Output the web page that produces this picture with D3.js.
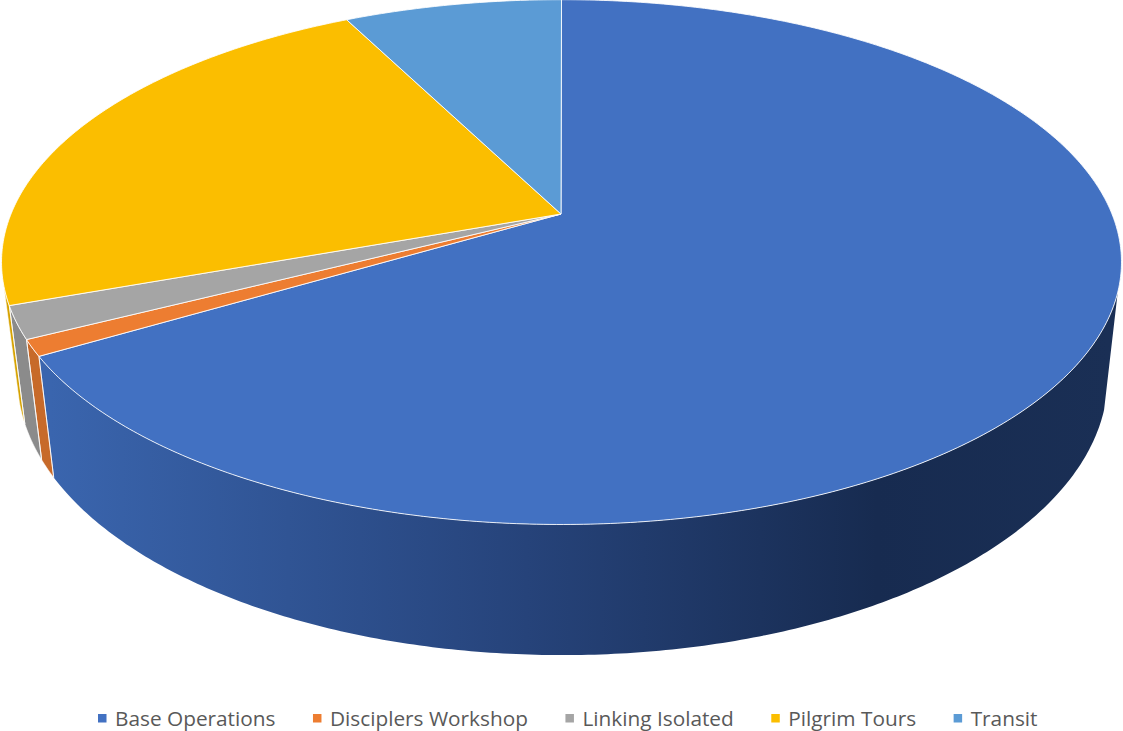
<!DOCTYPE html>
<html>
<head>
<meta charset="utf-8">
<script src="https://cdn.jsdelivr.net/npm/d3@7"></script>
<style>
  html, body { margin: 0; padding: 0; background: #fff; overflow: hidden; }
  svg { display: block; }
  .legend-label { font-family: "Open Sans", sans-serif; font-size: 20.8px; fill: #595959; }
</style>
</head>
<body>
<svg id="pie-chart-svg"></svg>
<script>
const width = 1123;
const height = 731;

// Data
const categories = ["Base Operations", "Disciplers Workshop", "Linking Isolated", "Pilgrim Tours", "Transit"];
const shares = [66.5, 1, 2, 23, 7.5];
const topColors = ["#4271c2", "#ed7d31", "#a5a5a5", "#fbbe00", "#5b9bd5"];
const sideColors = ["url(#base-side)", "#c76a2a", "#8b8b8b", "#d6a200", "#4d84b5"];

// Perspective of the disc: both faces are projected circles
const tilt = 0.1832;
const topFace = { cx: 561.5, a: 550.5, b: 253.6, cy: 214 };
const bottomFace = { cx: 562.5, a: 536, b: 268, cy: 327 };

// The wall only shows between the two tangent lines
const wallStart = 107 * Math.PI / 180;
const wallEnd = 254.5 * Math.PI / 180;

function project(face, angle) {
  const x = Math.sin(angle);
  const y = -Math.cos(angle);
  const d = 1 - tilt * y;
  return [face.cx + face.a * x / d, face.cy + face.b * y / d];
}

function arcPoints(face, from, to) {
  const n = Math.max(2, Math.ceil(Math.abs(to - from) / 0.01));
  return d3.range(n + 1).map(i => project(face, from + (to - from) * i / n));
}

const svg = d3.select("#pie-chart-svg")
  .attr("width", width)
  .attr("height", height)
  .attr("viewBox", `0 0 ${width} ${height}`);

const defs = svg.append("defs");
const sideGradient = defs.append("linearGradient")
  .attr("id", "base-side")
  .attr("gradientUnits", "userSpaceOnUse")
  .attr("x1", 50).attr("y1", 0)
  .attr("x2", 1110).attr("y2", 0);
[[0, "#3a65ae"], [0.45, "#26437a"], [0.78, "#172b50"], [1, "#1a2f55"]].forEach(s => {
  sideGradient.append("stop").attr("offset", s[0]).attr("stop-color", s[1]);
});

const slices = d3.pie().sort(null)(shares);
const line = d3.line();

// Walls first, the top face then covers whatever is behind it
const walls = svg.append("g");
slices.forEach((s, i) => {
  const from = Math.max(s.startAngle, wallStart);
  const to = Math.min(s.endAngle, wallEnd);
  if (to <= from) return;
  const pts = arcPoints(topFace, from, to).concat(arcPoints(bottomFace, to, from));
  walls.append("path")
    .attr("d", line(pts) + "Z")
    .attr("fill", sideColors[i])
    .attr("stroke", i === 0 ? "none" : "#fff")
    .attr("stroke-opacity", 0.7)
    .attr("stroke-width", 0.8);
});

// White seam lines between the front walls
slices.slice(0, 3).forEach(s => {
  walls.append("path")
    .attr("d", line([project(topFace, s.endAngle), project(bottomFace, s.endAngle)]))
    .attr("stroke", "#fff")
    .attr("stroke-opacity", 0.8)
    .attr("stroke-width", 1);
});

const tops = svg.append("g");
slices.forEach((s, i) => {
  const pts = [[561, topFace.cy]].concat(arcPoints(topFace, s.startAngle, s.endAngle));
  tops.append("path")
    .attr("d", line(pts) + "Z")
    .attr("fill", topColors[i])
    .attr("stroke", "#fff")
    .attr("stroke-opacity", 0.85)
    .attr("stroke-width", 1)
    .attr("stroke-linejoin", "round");
});

// Legend, laid out from the measured labels
const legend = svg.append("g").attr("class", "legend-group");
const legendY = 726;
const markerSize = 8.5;
const markerToText = 17;
const itemGap = 37.5;
let legendX = 98;
categories.forEach((name, i) => {
  const item = legend.append("g").attr("transform", `translate(${legendX}, ${legendY})`);
  item.append("rect")
    .attr("x", 0).attr("y", -12)
    .attr("width", markerSize).attr("height", markerSize)
    .attr("fill", topColors[i]);
  const label = item.append("text")
    .attr("class", "legend-label")
    .attr("x", markerToText)
    .text(name);
  legendX += markerToText + label.node().getComputedTextLength() + itemGap;
});
</script>
</body>
</html>
